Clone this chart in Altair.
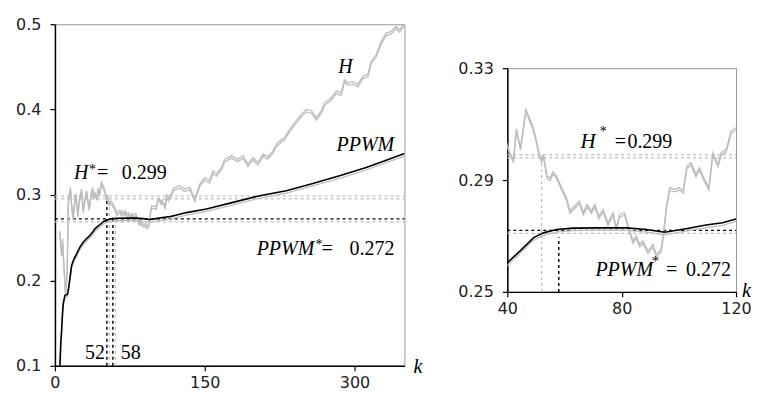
import altair as alt
import pandas as pd

# ---------------- data ----------------
h_k = [5, 6, 6.7, 7.7, 8.5, 9.3, 10.5, 11.5, 12.3, 13.3, 14.2, 15.5, 16.5, 17.2, 18.3, 19.5,
       21, 22, 23, 24.5, 26.7, 27.5, 28.3, 30, 31.7, 33, 34.3, 36, 37.7, 38.7,
       40, 41, 42.1, 43.2, 44.6, 46.5, 47.8, 49.1, 50.2, 51.2, 52, 52.6, 53.9, 55, 56, 57.2,
       59, 60.7, 61.9, 63, 65.2, 66.6, 67.9, 69.4, 70.6, 72, 73.5, 75.2, 77, 78.1, 79.3,
       81, 82.5, 84, 85.1, 86.3, 87.4, 89.2, 90.9, 92.1, 93.8, 94.4, 95.6, 96.8, 98.5,
       100.3, 101.5, 102.8, 104.3, 106, 107.2, 109, 110.5, 111.9, 113.7, 114.8, 116.6,
       118.3, 120, 125, 130, 135, 140, 145, 150, 155, 158.3, 161.7, 166.7, 170, 176.7,
       183.3, 188.3, 193.3, 198.3, 203.3, 208.3, 213.3, 218.3, 221.7, 226, 230, 235, 240,
       246.7, 251.7, 256.7, 261.7, 266.7, 270, 276.7, 281.7, 286.7, 290, 293.3, 298.3,
       303.3, 308.3, 313.3, 316.7, 321.7, 326.7, 331.7, 336.7, 341.7, 345, 350]
h_v = [0.258, 0.240, 0.231, 0.249, 0.228, 0.212, 0.188, 0.196, 0.215, 0.290, 0.300, 0.309,
       0.292, 0.283, 0.274, 0.290, 0.302, 0.289, 0.277, 0.295, 0.307, 0.294, 0.282, 0.296,
       0.305, 0.294, 0.285, 0.300, 0.309, 0.298,
       0.3028, 0.2995, 0.2974, 0.3082, 0.3016, 0.3153, 0.3120, 0.3087, 0.3040, 0.2992,
       0.2974, 0.2992, 0.2914, 0.2908, 0.2930, 0.2914, 0.2873, 0.2837, 0.2789, 0.2801,
       0.2825, 0.2783, 0.2813, 0.2789, 0.2813, 0.2771, 0.2795, 0.2747, 0.2783, 0.2729,
       0.2777, 0.2783, 0.2729, 0.2682, 0.2700, 0.2670, 0.2682, 0.2646, 0.2670, 0.2634,
       0.2652, 0.2693, 0.2801, 0.2873, 0.2867, 0.2873, 0.2862, 0.2950, 0.2962, 0.2920,
       0.2944, 0.2903, 0.2873, 0.2998, 0.2956, 0.2998, 0.3010, 0.3076, 0.3087, 0.3109,
       0.3070, 0.3090, 0.2953, 0.3128, 0.3205, 0.3170, 0.3283, 0.3250, 0.3322, 0.3420,
       0.3459, 0.3420, 0.3459, 0.3362, 0.3440, 0.3380, 0.3478, 0.3450, 0.3517, 0.3595,
       0.3640, 0.3672, 0.3770, 0.3847, 0.3945, 0.4003, 0.3990, 0.3906, 0.3984, 0.4080,
       0.4139, 0.4217, 0.4197, 0.4353, 0.4314, 0.4330, 0.4295, 0.4392, 0.4410, 0.4567,
       0.4645, 0.4800, 0.4897, 0.4917, 0.4975, 0.4936, 0.5014]

p_k = [4.5, 5, 5.8, 6.7, 7.5, 8.3, 10, 12.3, 13, 14.3, 16.7, 19, 21.7, 25, 28.3, 31.7, 35, 38,
       40, 44.4, 49.1, 52.6, 57.2, 63, 72.3, 81.6, 88.6, 94.4, 95.6, 102.5, 109.5, 115.3,
       120, 131.7, 151.7, 178.3, 205, 231.7, 258.3, 285, 311.7, 331.7, 350]
p_v = [0.090, 0.100, 0.125, 0.1417, 0.160, 0.1728, 0.1825, 0.1837, 0.186, 0.1961, 0.2175,
       0.225, 0.2311, 0.239, 0.2447, 0.249, 0.2525, 0.257, 0.2604, 0.2646, 0.2693, 0.2711,
       0.2723, 0.2728, 0.2729, 0.2729, 0.2723, 0.2714, 0.2714, 0.2726, 0.2739, 0.2747,
       0.2761, 0.2794, 0.2837, 0.2914, 0.2992, 0.3050, 0.3135, 0.3225, 0.3322, 0.3408, 0.3485]

h_star = 0.299
ppwm_star = 0.272
k_h_star = 52
k_ppwm_star = 58

left_x_ticks = [0, 150, 300]
left_y_ticks = [0.1, 0.2, 0.3, 0.4, 0.5]
right_x_ticks = [40, 80, 120]
right_y_ticks = [0.25, 0.29, 0.33]

GRAY = "#bdbdbd"
SERIF = "'Liberation Serif', 'Times New Roman', 'DejaVu Serif', serif"

h_df = pd.DataFrame({"k": h_k, "v": h_v})
p_df = pd.DataFrame({"k": p_k, "v": p_v})


def panel(xdom, ydom, xticks, yticks, yfmt, w, h, ann, vrules):
    xs = alt.Scale(domain=xdom, nice=False, zero=False)
    ys = alt.Scale(domain=ydom, nice=False, zero=False)
    xa = alt.Axis(values=xticks, format="d", title=None, grid=False)
    ya = alt.Axis(values=yticks, format=yfmt, title=None, grid=False)

    def X(f):
        return alt.X(f, type="quantitative", scale=xs, axis=xa, title=None)

    def Y(f):
        return alt.Y(f, type="quantitative", scale=ys, axis=ya, title=None)

    layers = []
    # H* horizontal (double gray)
    hs = pd.DataFrame({"x1": [xdom[0]], "x2": [xdom[1]], "v": [h_star]})
    for off in (0, 3):
        layers.append(alt.Chart(hs).mark_rule(color=GRAY, strokeDash=[3, 3], strokeWidth=1.2,
                                              yOffset=off)
                      .encode(x=X("x1"), x2="x2", y=Y("v")))
    # PPWM* horizontal (black + gray)
    ps = pd.DataFrame({"x1": [xdom[0]], "x2": [xdom[1]], "v": [ppwm_star]})
    layers.append(alt.Chart(ps).mark_rule(color=GRAY, strokeDash=[3, 3], strokeWidth=1.2,
                                          yOffset=3)
                  .encode(x=X("x1"), x2="x2", y=Y("v")))
    layers.append(alt.Chart(ps).mark_rule(color="black", strokeDash=[3, 3], strokeWidth=1.4)
                  .encode(x=X("x1"), x2="x2", y=Y("v")))
    # vertical rules
    for kk, top, col, double in vrules:
        vd = pd.DataFrame({"k": [kk], "y1": [ydom[0]], "y2": [top]})
        if double:
            layers.append(alt.Chart(vd).mark_rule(color=GRAY, strokeDash=[3, 3], strokeWidth=1.2,
                                                  xOffset=2.5)
                          .encode(x=X("k"), y=Y("y1"), y2="y2"))
        layers.append(alt.Chart(vd).mark_rule(color=col, strokeDash=[3, 3],
                                              strokeWidth=1.4 if col == "black" else 1.2)
                      .encode(x=X("k"), y=Y("y1"), y2="y2"))
    # H line (double gray)
    for off in (0, 2.5):
        layers.append(alt.Chart(h_df).mark_line(color=GRAY, strokeWidth=1.3, clip=True,
                                                yOffset=off)
                      .encode(x=X("k"), y=Y("v"), order="k:Q"))
    # PPWM line (gray shadow + black)
    layers.append(alt.Chart(p_df).mark_line(color=GRAY, strokeWidth=1.3, clip=True, yOffset=2.5)
                  .encode(x=X("k"), y=Y("v"), order="k:Q"))
    layers.append(alt.Chart(p_df).mark_line(color="black", strokeWidth=1.6, clip=True)
                  .encode(x=X("k"), y=Y("v"), order="k:Q"))
    # annotations
    for (kk, vv, txt, size, style, align) in ann:
        ad = pd.DataFrame({"k": [kk], "v": [vv], "t": [txt]})
        layers.append(alt.Chart(ad).mark_text(font=SERIF, fontSize=size, fontStyle=style,
                                              align=align, baseline="alphabetic",
                                              color="black")
                      .encode(x=X("k"), y=Y("v"), text="t:N"))
    return alt.layer(*layers).properties(
        width=w, height=h, view=alt.ViewBackground(stroke="#999999", strokeWidth=1))


left_ann = [
    (291, 0.4427, "H", 20, "italic", "center"),
    (282, 0.3517, "PPWM", 20, "italic", "left"),
    (19, 0.3190, "H", 20, "italic", "left"),
    (34, 0.3245, "*", 14, "normal", "left"),
    (42, 0.3190, "=", 20, "normal", "left"),
    (67, 0.3190, "0.299", 20, "normal", "left"),
    (202, 0.2303, "PPWM", 20, "italic", "left"),
    (261, 0.2365, "*", 14, "normal", "left"),
    (267, 0.2303, "=", 20, "normal", "left"),
    (295, 0.2303, "0.272", 20, "normal", "left"),
    (50, 0.1085, "52", 20, "normal", "right"),
    (66, 0.1085, "58", 20, "normal", "left"),
    (359, 0.0920, "k", 20, "italic", "left"),
]
right_ann = [
    (65.6, 0.3016, "H", 21, "italic", "left"),
    (72.3, 0.3058, "*", 14, "normal", "left"),
    (77.6, 0.3016, "=", 20, "normal", "left"),
    (82.0, 0.3016, "0.299", 20, "normal", "left"),
    (70.8, 0.2556, "PPWM", 20, "italic", "left"),
    (90.6, 0.2594, "*", 14, "normal", "left"),
    (95.5, 0.2556, "=", 20, "normal", "left"),
    (102.5, 0.2556, "0.272", 20, "normal", "left"),
    (122.1, 0.2482, "k", 20, "italic", "left"),
]

left = panel([0, 350], [0.1, 0.5], left_x_ticks, left_y_ticks, ".1f", 350, 342, left_ann,
             [(k_h_star, 0.2975, "black", True), (k_ppwm_star, ppwm_star, "black", True)])
right = panel([40, 120], [0.25, 0.33], right_x_ticks, right_y_ticks, ".2f", 229, 224, right_ann,
              [(k_h_star, h_star, GRAY, False), (k_ppwm_star, 0.2695, "black", False)])

spacer = alt.Chart(pd.DataFrame({"a": [0]})).mark_rule(opacity=0).encode(
    x=alt.value(0), x2=alt.value(1), y=alt.value(0)
).properties(width=229, height=44, view=alt.ViewBackground(stroke=None))

chart = alt.hconcat(
    left, alt.vconcat(spacer, right, spacing=0, bounds="flush"),
    spacing=103, bounds="flush"
).properties(
    padding={"left": 7, "top": 7, "right": 0, "bottom": 0}
).configure_axis(
    domainColor="black", domainWidth=1.5, tickColor="black", tickWidth=1.2, tickSize=5,
    labelFont="DejaVu Sans", labelFontSize=16, labelColor="#222222",
    labelFlush=False, labelOverlap=False, grid=False
).configure_axisX(labelPadding=4).configure_axisY(labelPadding=9)

chart.save("out.html", embed_options={"renderer": "svg", "actions": False})
